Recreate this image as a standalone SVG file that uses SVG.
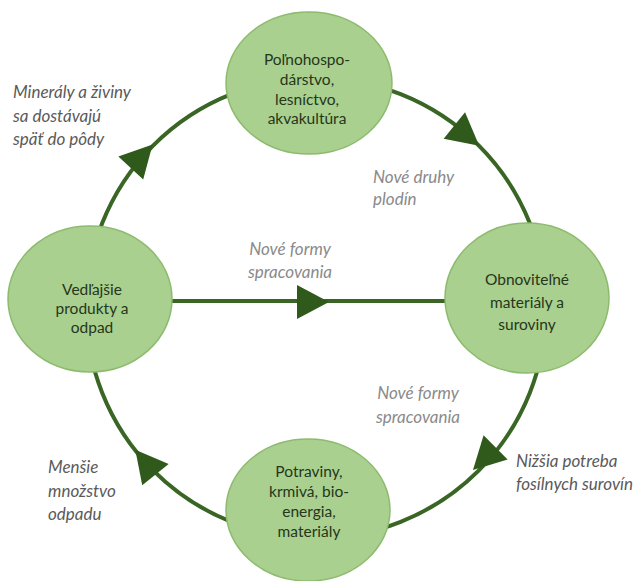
<svg xmlns="http://www.w3.org/2000/svg" width="640" height="581" viewBox="0 0 640 581">
  <defs>
    <style>
      .ring { fill: none; stroke: #3a6625; stroke-width: 4; }
      .ah { fill: #2f5a1c; }
      .node { fill: #a9d08e; stroke: #8dbb6e; stroke-width: 1.5; }
      .nt { font-family: Lato, "Open Sans", sans-serif; font-size: 15.5px; fill: #26361b; text-anchor: middle; }
      .lbl { font-family: Lato, "Open Sans", sans-serif; font-size: 17px; font-style: italic; fill: #5a5a5a; }
      .lbl2 { font-family: Lato, "Open Sans", sans-serif; font-size: 17px; font-style: italic; fill: #8a8a8a; }
    </style>
    <path id="arrowhead" d="M17,0 L-15,-17 L-15,17 Z"/>
  </defs>

  <g id="connectors">
    <circle class="ring" cx="316" cy="308" r="230"/>
    <line class="ring" x1="90" y1="301" x2="527" y2="301"/>
    <use href="#arrowhead" class="ah" transform="translate(141,157) rotate(-47)"/>
    <use href="#arrowhead" class="ah" transform="translate(466,135) rotate(39)"/>
    <use href="#arrowhead" class="ah" transform="translate(485,458) rotate(135)"/>
    <use href="#arrowhead" class="ah" transform="translate(146,463) rotate(-129)"/>
    <use href="#arrowhead" class="ah" transform="translate(312,302) rotate(0)"/>
  </g>

  <g id="node-top">
    <ellipse class="node" cx="309" cy="83" rx="83" ry="71"/>
    <text class="nt" x="307" y="65">Poľnohospo-</text>
    <text class="nt" x="307" y="85">dárstvo,</text>
    <text class="nt" x="307" y="105">lesníctvo,</text>
    <text class="nt" x="307" y="124">akvakultúra</text>
  </g>

  <g id="node-left">
    <ellipse class="node" cx="90" cy="299" rx="82" ry="73"/>
    <text class="nt" x="92" y="295">Vedľajšie</text>
    <text class="nt" x="92" y="314">produkty a</text>
    <text class="nt" x="92" y="333">odpad</text>
  </g>

  <g id="node-right">
    <ellipse class="node" cx="527" cy="298" rx="82" ry="75"/>
    <text class="nt" x="527" y="285">Obnoviteľné</text>
    <text class="nt" x="527" y="308">materiály a</text>
    <text class="nt" x="527" y="330">suroviny</text>
  </g>

  <g id="node-bottom">
    <ellipse class="node" cx="308" cy="510" rx="82" ry="71"/>
    <text class="nt" x="309" y="477">Potraviny,</text>
    <text class="nt" x="309" y="497">krmivá, bio-</text>
    <text class="nt" x="309" y="517">energia,</text>
    <text class="nt" x="309" y="537">materiály</text>
  </g>

  <g id="labels">
    <text class="lbl" x="13" y="98">Minerály a živiny</text>
    <text class="lbl" x="13" y="122">sa dostávajú</text>
    <text class="lbl" x="13" y="145">späť do pôdy</text>

    <text class="lbl2" x="373" y="183">Nové druhy</text>
    <text class="lbl2" x="373" y="205">plodín</text>

    <text class="lbl2" x="290" y="255" text-anchor="middle">Nové formy</text>
    <text class="lbl2" x="290" y="278" text-anchor="middle">spracovania</text>

    <text class="lbl2" x="418" y="399" text-anchor="middle">Nové formy</text>
    <text class="lbl2" x="418" y="423" text-anchor="middle">spracovania</text>

    <text class="lbl" x="516" y="467">Nižšia potreba</text>
    <text class="lbl" x="516" y="490">fosílnych surovín</text>

    <text class="lbl" x="48" y="473">Menšie</text>
    <text class="lbl" x="48" y="497">množstvo</text>
    <text class="lbl" x="48" y="520">odpadu</text>
  </g>
</svg>
